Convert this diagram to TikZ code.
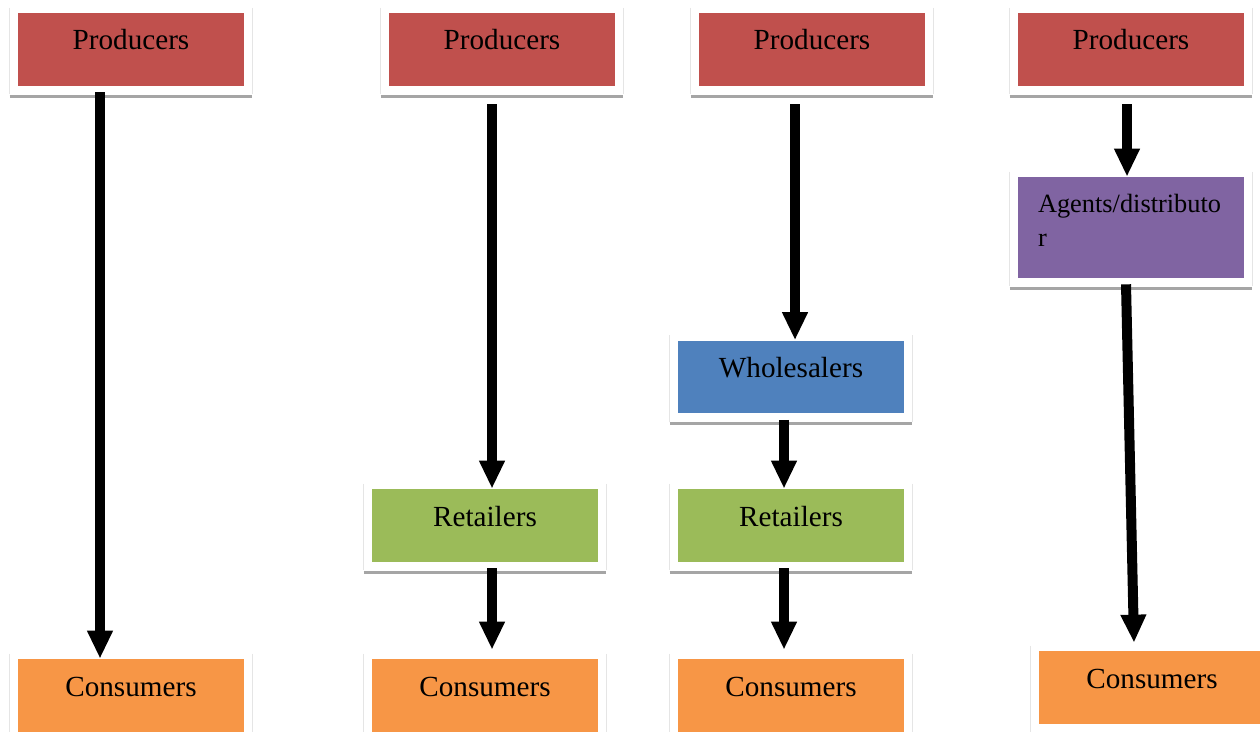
\documentclass[tikz,border=0pt]{standalone}
\usepackage{fontspec}
\setmainfont{Liberation Serif}
\usetikzlibrary{arrows.meta}
\usetikzlibrary{positioning}

\definecolor{prodred}{HTML}{C0504D}
\definecolor{retgreen}{HTML}{9BBB59}
\definecolor{wholeblue}{HTML}{4F81BD}
\definecolor{agentpurple}{HTML}{8064A2}
\definecolor{consorange}{HTML}{F79646}
\definecolor{shadowgray}{HTML}{A5A5A5}

\tikzset{
card/.style={rectangle,minimum width=4.52cm,inner sep=0pt,font=\fontsize{16.6}{19.4}\selectfont},
box/.style={card,minimum height=1.46cm,text height=0.74cm,text depth=0.72cm},
flow/.style={line width=0.2cm,-{Triangle[length=0.56cm,width=0.48cm]}},
frameedge/.style={draw=black!10,line width=0.5pt},
shadowline/.style={draw=shadowgray,line width=0.06cm}
}

\begin{document}
\begin{tikzpicture}[x=0.02cm,y=-0.02cm]
\useasboundingbox (0,0) rectangle (1260,732);
\clip (0,0) rectangle (1260,732);
% producers
\node at (131,49.5)[box,fill=prodred](p1){Producers};
\node at (502,49.5)[box,fill=prodred](p2){Producers};
\node at (812,49.5)[box,fill=prodred](p3){Producers};
\node at (1131,49.5)[box,fill=prodred](p4){Producers};
% middle
\node at (791,377)[box,fill=wholeblue](w3){Wholesalers};
\node at (485,525.5)[box,fill=retgreen](r2){Retailers};
\node at (791,525.5)[box,fill=retgreen](r3){Retailers};
\node at (1131,227.5)[card,font=\fontsize{15}{19.3}\selectfont,text width=3.72cm,inner xsep=0.4cm,text height=0.72cm,text depth=1.30cm,align=left,fill=agentpurple](a4){Agents/distributo\\r};
% consumers
\node at (131,695.5)[box,fill=consorange](c1){Consumers};
\node at (485,695.5)[box,fill=consorange](c2){Consumers};
\node at (791,695.5)[box,fill=consorange](c3){Consumers};
\node at (1152,687.5)[box,fill=consorange](c4){Consumers};
% frames
\foreach \n in {p1,p2,p3,p4,w3,r2,r3,a4,c1,c2,c3,c4}{
\draw[frameedge] ([shift={(-8,-5)}]\n.north west) -- ([shift={(-8,8)}]\n.south west);
\draw[frameedge] ([shift={(8,-5)}]\n.north east) -- ([shift={(8,8)}]\n.south east);
\draw[shadowline] ([shift={(-8,10)}]\n.south west) -- ([shift={(8,10)}]\n.south east);
}
% arrows
\draw[flow] ([shift={(-31,6)}]p1.south) -- ([shift={(-31,0)}]c1.north);
\draw[flow] ([shift={(-10,18)}]p2.south) -- ([shift={(7,0)}]r2.north);
\draw[flow] ([shift={(7,6)}]r2.south) -- ([shift={(7,-9)}]c2.north);
\draw[flow] ([shift={(-17,18)}]p3.south) -- ([shift={(4,0)}]w3.north);
\draw[flow] ([shift={(-7,6)}]w3.south) -- ([shift={(-7,0)}]r3.north);
\draw[flow] ([shift={(-7,6)}]r3.south) -- ([shift={(-7,-9)}]c3.north);
\draw[flow] ([shift={(-4,18)}]p4.south) -- ([shift={(-4,0)}]a4.north);
\draw[flow] ([shift={(-5,6)}]a4.south) -- ([shift={(-18,-8)}]c4.north);
\end{tikzpicture}
\end{document}
